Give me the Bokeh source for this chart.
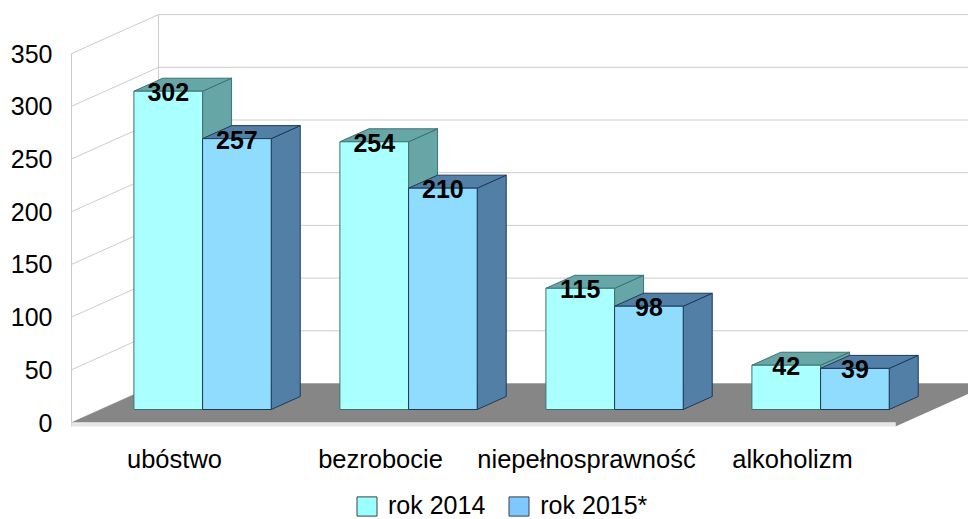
from bokeh.plotting import figure
from bokeh.models import LinearAxis, FixedTicker, Legend, LegendItem, ColumnDataSource, Range1d
from bokeh.core.properties import value
from bokeh.embed import file_html
from bokeh.resources import INLINE

categories = ["ubóstwo", "bezrobocie", "niepełnosprawność", "alkoholizm"]
series_names = ["rok 2014", "rok 2015*"]
values_2014 = [302, 254, 115, 42]
values_2015 = [257, 210, 98, 39]
y_ticks = [0, 50, 100, 150, 200, 250, 300, 350]

FONT = "Liberation Sans"
W, H = 968, 519
PX_CAT = 206.0       # pixels per category
PX_VAL = 1.054       # pixels per unit
ORIGIN_X, ORIGIN_Y = 71, 422           # front-plane origin inside the canvas
DX, DY = 87 / PX_CAT, 39 / PX_VAL      # oblique depth vector, in data units
BAR_W, GAP = 1 / 3, 33.4 / 206
YMAX = 350

FRONT = ["#AAFFFF", "#90DCFF"]
SHADE = ["#66A6A6", "#527FA6"]
EDGE = ["#3F7070", "#1E3A55"]
SWATCH = ["#99FFFF", "#7FC8FF"]

p = figure(width=W, height=H, output_backend="svg", toolbar_location=None,
           x_axis_location=None, y_axis_location=None, min_border=0,
           x_range=Range1d(-ORIGIN_X / PX_CAT, (W - ORIGIN_X) / PX_CAT),
           y_range=Range1d(-(H - ORIGIN_Y) / PX_VAL, ORIGIN_Y / PX_VAL))
p.outline_line_color = None
p.grid.visible = False


def pr(x, v, d):
    """Oblique projection of (category x, value v, depth d)."""
    return x + d * DX, v + d * DY


def face(points):
    xs, ys = zip(*[pr(*pt) for pt in points])
    return list(xs), list(ys)


def patch(points, fill, line=None, width=1):
    xs, ys = face(points)
    p.patch(xs, ys, fill_color=fill, line_color=line, line_width=width)


n = len(categories)
GRID = "#CCCCCC"
# gridlines on the back and side walls
for t in y_ticks:
    xs, ys = face([(0, t, 0), (0, t, 1), (n, t, 1)])
    p.line(xs, ys, line_color=GRID, line_width=1)
# wall verticals
for pts in ([(0, -4, 0), (0, YMAX, 0)], [(0, 0, 1), (0, YMAX, 1)]):
    xs, ys = face(pts)
    p.line(xs, ys, line_color=GRID, line_width=1)

# floor
FLOOR_T = 4 / PX_VAL
patch([(0, 0, 0), (n, 0, 0), (n, -FLOOR_T, 0), (n, -FLOOR_T, 1), (n, 0, 1), (0, 0, 1)], "#868686")
patch([(0, 0, 0), (n, 0, 0), (n, -FLOOR_T, 0), (0, -FLOOR_T, 0)], "#E6E6E6")

# bars
D0, D1 = 1 / 3, 2 / 3
labels = {"x": [], "y": [], "t": []}
for i in range(n):
    for s, vals in enumerate((values_2014, values_2015)):
        x0 = i + GAP + s * BAR_W
        x1 = x0 + BAR_W
        v = vals[i]
        patch([(x1, 0, D0), (x1, 0, D1), (x1, v, D1), (x1, v, D0)], SHADE[s], EDGE[s])
        patch([(x0, v, D0), (x1, v, D0), (x1, v, D1), (x0, v, D1)], SHADE[s], EDGE[s])
        patch([(x0, 0, D0), (x1, 0, D0), (x1, v, D0), (x0, v, D0)], FRONT[s], EDGE[s])
        lx, ly = pr((x0 + x1) / 2, v, D0)
        labels["x"].append(lx)
        labels["y"].append(ly - 1 / PX_VAL)
        labels["t"].append(str(v))

p.text("x", "y", text="t", source=ColumnDataSource(labels), text_align="center",
       text_baseline="middle", text_font=value(FONT), text_font_style="bold",
       text_font_size="25px", text_color="#000000")

# axes
yaxis = LinearAxis(ticker=FixedTicker(ticks=y_ticks), fixed_location=0)
yaxis.axis_line_color = None
yaxis.major_tick_line_color = None
yaxis.minor_tick_line_color = None
yaxis.major_tick_out = 0
yaxis.major_tick_in = 0
yaxis.major_label_standoff = 19
yaxis.major_label_text_font = FONT
yaxis.major_label_text_font_size = "25px"
yaxis.major_label_text_color = "#000000"
p.add_layout(yaxis, "left")

xticks = [i + 0.5 for i in range(n)]
xaxis = LinearAxis(ticker=FixedTicker(ticks=xticks), fixed_location=-FLOOR_T,
                   major_label_overrides={t: c for t, c in zip(xticks, categories)})
xaxis.axis_line_color = None
xaxis.major_tick_line_color = None
xaxis.minor_tick_line_color = None
xaxis.major_tick_out = 0
xaxis.major_tick_in = 0
xaxis.major_label_standoff = 18
xaxis.major_label_text_font = FONT
xaxis.major_label_text_font_size = "25.5px"
xaxis.major_label_text_color = "#000000"
p.add_layout(xaxis, "below")

# legend
nan = float("nan")
items = []
for s, name in enumerate(series_names):
    r = p.quad(left=[nan], right=[nan], top=[nan], bottom=[nan],
               fill_color=SWATCH[s], line_color="#404040", line_width=1)
    items.append(LegendItem(label=name, renderers=[r]))
legend = Legend(items=items, orientation="horizontal", location=(354, -1),
                background_fill_alpha=0, border_line_color=None, padding=0, margin=0,
                glyph_width=25, glyph_height=24, label_standoff=9, spacing=21,
                label_text_font=FONT, label_text_font_size="25px", label_text_color="#000000")
p.add_layout(legend)

open("out.html", "w").write(file_html(p, INLINE))
